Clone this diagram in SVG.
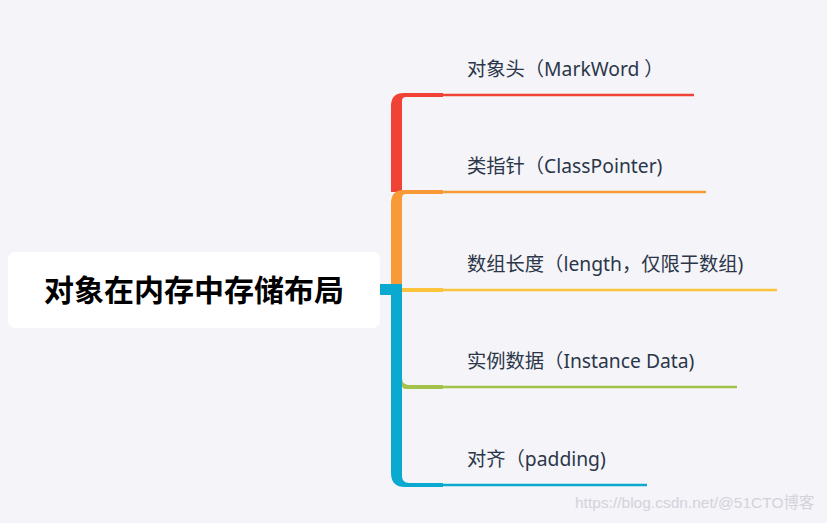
<svg xmlns="http://www.w3.org/2000/svg" width="827" height="523" viewBox="0 0 827 523">
<style>
.lbl{font-family:"Noto Sans","Noto Sans CJK SC",sans-serif;font-size:19.3px;fill:#2b3648}
.title{font-family:"Noto Sans CJK SC","Noto Sans",sans-serif;font-size:30px;font-weight:bold;fill:#000}
.wm{font-family:"Liberation Sans","Noto Sans CJK SC",sans-serif;font-size:15.5px;fill:#d3d3da}
</style>
<rect width="827" height="523" fill="#f4f4f9"/>
<g id="connectors">
  <path d="M391 192 V106 Q391 93 404 93 H443 V97 H406 Q402 97 402 101 V192 Z" fill="#f04336"/>
  <line x1="443" y1="95" x2="694" y2="95" stroke="#f04336" stroke-width="2.5"/>
  <path d="M391 286 V203 Q391 190 404 190 H443 V194 H406 Q402 194 402 198 V286 Z" fill="#f89a36"/>
  <line x1="443" y1="192" x2="706" y2="192" stroke="#f89a36" stroke-width="2.5"/>
  <rect x="402" y="288" width="41" height="4" fill="#fcc43c"/>
  <line x1="443" y1="290" x2="777" y2="290" stroke="#fcc43c" stroke-width="2.5"/>
  <path d="M402 378 Q402 385 409 385 H443 V389 H406 Q402 389 402 385 Z" fill="#a2c24a"/>
  <line x1="443" y1="387" x2="737" y2="387" stroke="#a2c24a" stroke-width="2.5"/>
  <rect x="380" y="284" width="22" height="11" fill="#0aaad0"/>
  <path d="M391 284 V473 Q391 487 405 487 H443 V483 H409 Q402 483 402 476 V284 Z" fill="#0aaad0"/>
  <line x1="443" y1="485" x2="647" y2="485" stroke="#0aaad0" stroke-width="2.5"/>
</g>
<g id="root">
  <rect x="8" y="252" width="372" height="76" rx="7" fill="#ffffff"/>
  <text class="title" x="194" y="301" text-anchor="middle">对象在内存中存储布局</text>
</g>
<g id="n1"><text class="lbl" x="467" y="76">对象头（MarkWord ）</text></g>
<g id="n2"><text class="lbl" x="467" y="173">类指针（ClassPointer)</text></g>
<g id="n3"><text class="lbl" x="467" y="271">数组长度（length，仅限于数组)</text></g>
<g id="n4"><text class="lbl" x="467" y="368">实例数据（Instance Data)</text></g>
<g id="n5"><text class="lbl" x="467" y="466">对齐（padding)</text></g>
<text class="wm" x="575" y="508">https://blog.csdn.net/@51CTO博客</text>
</svg>
